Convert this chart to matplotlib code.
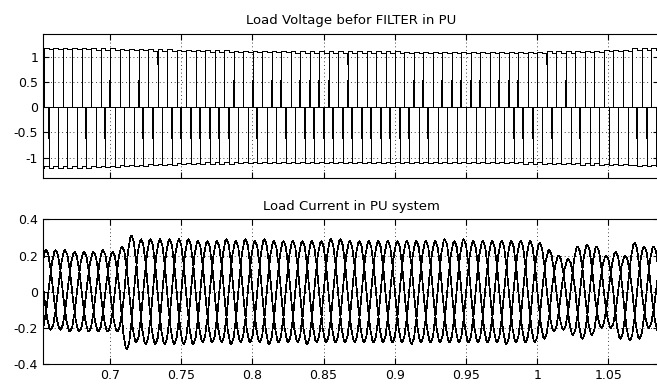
import matplotlib
matplotlib.use("Agg")
import matplotlib.pyplot as plt
import numpy as np

# ---------------- data ----------------
# Load voltage (three overlaid six-step line voltages, 50 Hz)
V_T0 = 0.6602            # time of an upper-half switching edge
V_STEP = 0.02 / 6        # 60 degree step at 50 Hz
V_J_START = -4
SIXSTEP = [1, 1, 0, -1, -1, 0]
v_top = [1.18, 1.18, 1.17, 1.16, 1.15, 1.14, 1.13, 1.12, 1.12, 1.11, 1.11,
         1.11, 1.11, 1.10, 1.10, 1.10, 1.10, 1.10, 1.11, 1.12, 1.14, 1.17]
v_bot = [-1.20, -1.20, -1.19, -1.17, -1.15, -1.13, -1.12, -1.11, -1.11, -1.11, -1.11,
         -1.11, -1.11, -1.11, -1.11, -1.11, -1.11, -1.12, -1.13, -1.14, -1.15, -1.17]
v_glitch_up = [12, 18, 38, 42, 46, 48, 52, 54, 56, 58, 62, 76, 78, 82, 84, 86,
               88, 90, 94, 96, 98, 108]
v_glitch_dn = [-1, 7, 11, 19, 21, 25, 27, 29, 31, 33, 35, 37, 43, 49, 53, 55, 57,
               59, 61, 63, 65, 67, 69, 71, 73, 75, 79, 97, 99, 101, 105, 111, 123, 125]
v_dip_up = [22, 62, 104]
v_glitch_level_up = 0.55
v_glitch_level_dn = -0.6
v_dip_level = 0.85

# Load current (three phases, 50 Hz); one period shape, from positive zero crossing
i_shape = [0.0, 0.28, 0.48, 0.72, 0.84, 0.97, 1.0, 0.95, 0.88, 0.68, 0.52, 0.25,
           0.0, -0.28, -0.48, -0.72, -0.84, -0.97, -1.0, -0.95, -0.88, -0.68, -0.52, -0.25]
i_start = {"a": 0.6502, "b": 0.6369, "c": 0.6435}   # first positive zero crossing
ia_pos = [0.23, 0.22, 0.23, 0.31, 0.29, 0.29, 0.28, 0.29, 0.28, 0.28, 0.29, 0.28,
          0.28, 0.28, 0.29, 0.28, 0.28, 0.28, 0.20, 0.26, 0.22, 0.25, 0.24]
ia_neg = [0.21, 0.22, 0.22, 0.29, 0.29, 0.28, 0.29, 0.28, 0.28, 0.28, 0.28, 0.28,
          0.28, 0.28, 0.28, 0.28, 0.28, 0.26, 0.24, 0.20, 0.27, 0.22, 0.22]
ib_pos = [0.22, 0.23, 0.22, 0.22, 0.29, 0.29, 0.28, 0.29, 0.28, 0.28, 0.28, 0.29,
          0.28, 0.28, 0.28, 0.28, 0.28, 0.28, 0.27, 0.18, 0.25, 0.20, 0.25]
ib_neg = [0.21, 0.22, 0.22, 0.32, 0.29, 0.29, 0.28, 0.28, 0.29, 0.28, 0.28, 0.28,
          0.28, 0.29, 0.28, 0.28, 0.28, 0.28, 0.22, 0.26, 0.20, 0.26, 0.20]
ic_pos = [0.22, 0.23, 0.22, 0.25, 0.29, 0.29, 0.28, 0.28, 0.29, 0.28, 0.28, 0.28,
          0.28, 0.28, 0.28, 0.29, 0.28, 0.28, 0.23, 0.25, 0.20, 0.27, 0.22]
ic_neg = [0.21, 0.22, 0.22, 0.28, 0.29, 0.29, 0.28, 0.28, 0.28, 0.29, 0.28, 0.28,
          0.28, 0.28, 0.28, 0.28, 0.29, 0.28, 0.21, 0.24, 0.26, 0.20, 0.22]

top_title = "Load Voltage befor FILTER in PU"
bot_title = "Load Current in PU system"
x_ticks = [0.7, 0.75, 0.8, 0.85, 0.9, 0.95, 1.0, 1.05]
x_labels = ["0.7", "0.75", "0.8", "0.85", "0.9", "0.95", "1", "1.05"]
v_ticks = [-1, -0.5, 0, 0.5, 1]
v_labels = ["-1", "-0.5", "0", "0.5", "1"]
i_ticks = [-0.4, -0.2, 0, 0.2, 0.4]
i_labels = ["-0.4", "-0.2", "0", "0.2", "0.4"]

# ---------------- build traces ----------------
n_steps = len(v_top) * 6
GLITCH_DT = 0.0007


def voltage_trace(p):
    ts, vs = [], []
    for n in range(n_steps):
        j = V_J_START + n
        k = n // 6
        s = SIXSTEP[(j - 2 * p) % 6]
        sp = SIXSTEP[(j - 2 * p - 1) % 6]
        if s == 1:
            lvl = v_top[k] - (0.03 if sp == 1 else 0.0)
        elif s == -1:
            lvl = v_bot[k] + (0.03 if sp == -1 else 0.0)
        else:
            lvl = 0.0
        tb = V_T0 + j * V_STEP
        if s == 1 and sp == 0 and j in v_glitch_up:
            ts.append(tb - GLITCH_DT); vs.append(v_glitch_level_up)
        if s == -1 and sp == 0 and j in v_glitch_dn:
            ts.append(tb - GLITCH_DT); vs.append(v_glitch_level_dn)
        if s == 0 and sp == 1 and j in v_dip_up:
            ts.append(tb - GLITCH_DT); vs.append(v_dip_level)
        ts.append(tb); vs.append(lvl)
    return ts, vs


def current_trace(t0, pos, neg):
    ts, vs = [], []
    dt = 0.02 / len(i_shape)
    half = len(i_shape) // 2
    for k in range(len(pos)):
        for m, val in enumerate(i_shape):
            ts.append(t0 + 0.02 * k + m * dt)
            vs.append(val * (pos[k] if m < half else neg[k]))
    return ts, vs


# ---------------- figure ----------------
plt.rcParams["font.family"] = "DejaVu Sans"
fig = plt.figure(figsize=(6.57, 3.85), dpi=100)
fig.patch.set_facecolor("white")

ax1 = fig.add_axes([43 / 657, 1 - 178.3 / 385, 616 / 657, 144.3 / 385])
ax2 = fig.add_axes([43 / 657, 1 - 364 / 385, 616 / 657, 144.6 / 385])

for p in range(3):
    ts, vs = voltage_trace(p)
    ax1.plot(ts, vs, drawstyle="steps-post", color="black", lw=0.5, antialiased=False)

for t0, pos, neg in [(i_start["a"], ia_pos, ia_neg),
                     (i_start["b"], ib_pos, ib_neg),
                     (i_start["c"], ic_pos, ic_neg)]:
    ts, vs = current_trace(t0, pos, neg)
    ax2.plot(ts, vs, color="black", lw=0.5, antialiased=False)

xlim = (0.653, 1.0856)
ax1.set_xlim(xlim)
ax2.set_xlim(xlim)
ax1.set_ylim(-1.41, 1.455)
ax2.set_ylim(-0.4, 0.4)

ax1.set_xticks(x_ticks)
ax1.set_xticklabels([])
ax2.set_xticks(x_ticks)
ax2.set_xticklabels(x_labels)
ax1.set_yticks(v_ticks)
ax1.set_yticklabels(v_labels)
ax2.set_yticks(i_ticks)
ax2.set_yticklabels(i_labels)

for ax, ttl in [(ax1, top_title), (ax2, bot_title)]:
    ax.set_title(ttl, fontsize=9.5, pad=7.0)
    ax.tick_params(direction="in", length=4.5, width=0.8, top=True, right=True,
                   labelsize=9, pad=3.5, colors="black")
    ax.grid(True, color="black", linestyle=(0, (1, 3.5)), linewidth=0.6)
    for sp in ax.spines.values():
        sp.set_linewidth(0.8)
        sp.set_color("black")
    ax.set_facecolor("white")

fig.savefig("out.png", dpi=100, facecolor="white")
